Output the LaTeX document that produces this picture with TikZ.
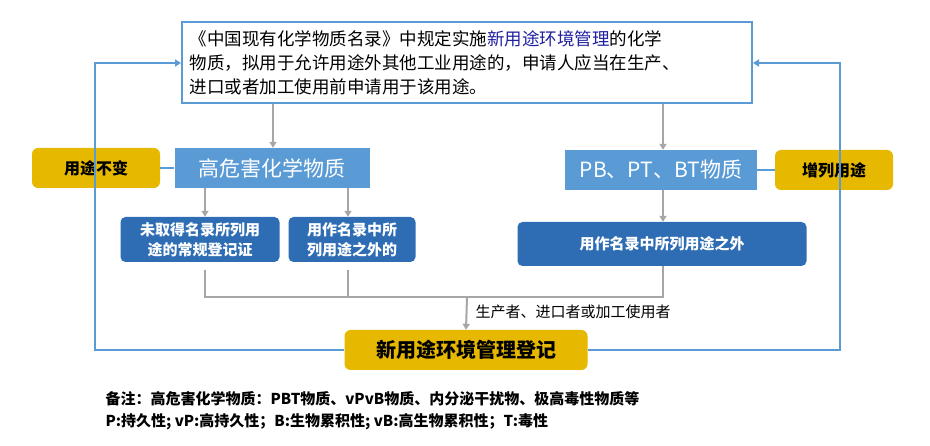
\documentclass[tikz,border=0pt]{standalone}
\usepackage{fontspec}
\setmainfont{Noto Sans CJK SC}
\usetikzlibrary{arrows.meta}
\definecolor{lb}{HTML}{5B9BD5}
\definecolor{db}{HTML}{2E6DB4}
\definecolor{yl}{HTML}{E6B800}
\definecolor{gr}{HTML}{A6A6A6}
\definecolor{nv}{HTML}{1F1F9F}
\tikzset{
 lightbox/.style={fill=lb,text=white,minimum height=40pt,font=\fontsize{21}{24}\selectfont},
 darkbox/.style={fill=db,text=white,rounded corners=5pt,font=\bfseries\fontsize{15}{20}\selectfont,align=center},
 yelbox/.style={fill=yl,rounded corners=6pt,minimum height=40pt,font=\bfseries\fontsize{16}{19}\selectfont},
 garr/.style={gr,line width=2pt,-{Triangle[length=6pt,width=7pt]}},
 gline/.style={gr,line width=2pt},
 bline/.style={lb,line width=2.2pt},
 barr/.style={lb,line width=2.2pt,-{Triangle[length=6pt,width=7pt]}}
}
\begin{document}
\begin{tikzpicture}[x=1pt,y=-1pt]
\useasboundingbox (0,0) rectangle (930,446);
\node[draw=lb,line width=2pt,minimum width=570pt,minimum height=81pt,inner sep=0pt] (top) at (467,63) {};
\node[anchor=west,align=left,font=\fontsize{17.5}{24}\selectfont] (toptext) at (186,63) {《中国现有化学物质名录》中规定实施\textcolor{nv}{新用途环境管理}的化学\\物质，拟用于允许用途外其他工业用途的，申请人应当在生产、\\进口或者加工使用前申请用于该用途。};
\node[lightbox,minimum width=195pt] (hh) at (272,168) {高危害化学物质};
\node[lightbox,minimum width=192pt] (pb) at (661,170) {PB、PT、BT物质};
\node[yelbox,minimum width=128pt] (bb) at (96,168) {用途不变};
\node[yelbox,minimum width=118pt] (zl) at (834,170) {增列用途};
\node[darkbox,minimum width=159pt,minimum height=45pt] (wq) at (200,239.5) {未取得名录所列用\\途的常规登记证};
\node[darkbox,minimum width=127pt,minimum height=45pt] (yz) at (352,239.5) {用作名录中所\\列用途之外的};
\node[darkbox,minimum width=289pt,minimum height=44pt] (yw) at (662,244) {用作名录中所列用途之外};
\node[yelbox,minimum width=243pt,font=\bfseries\fontsize{20}{23}\selectfont] (reg) at (466,350) {新用途环境管理登记};
\coordinate (j) at (467,297);
\draw[garr] (273,104) -- (hh.north -| 273,0);
\draw[garr] (663,104) -- (pb.north -| 663,0);
\draw[garr] (205,188) -- (wq.north -| 205,0);
\draw[garr] (348,188) -- (yz.north -| 348,0);
\draw[garr] (663,190) -- (yw.north -| 663,0);
\draw[gline] (205,270) |- (j);
\draw[gline] (348,270) -- (348,297);
\draw[gline] (663,266) |- (j);
\draw[garr] (j) -- (reg.north);
\node[anchor=west,font=\fontsize{15}{17}\selectfont] (lab) at (472,312) {生产者、进口者或加工使用者};
\draw[bline] (bb.east) -- (hh.west);
\draw[bline] (zl.west) -- (pb.east);
\draw[barr] (reg.west) -| (95,63) -- (top.west);
\draw[barr] (reg.east) -| (840,63) -- (top.east);
\node[anchor=west,align=left,font=\bfseries\fontsize{15}{22}\selectfont] (note) at (102,411) {备注：高危害化学物质：PBT物质、vPvB物质、内分泌干扰物、极高毒性物质等\\P:持久性; vP:高持久性；B:生物累积性; vB:高生物累积性；T:毒性};
\end{tikzpicture}
\end{document}
